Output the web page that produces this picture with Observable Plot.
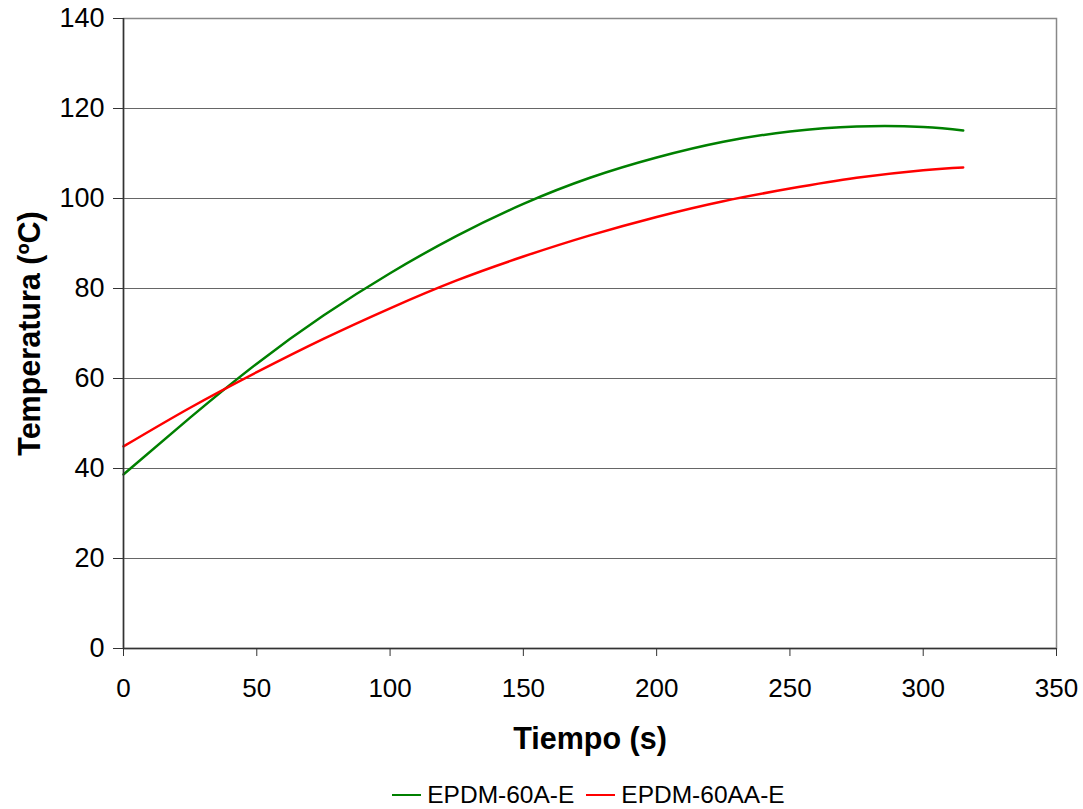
<!DOCTYPE html>
<html>
<head>
<meta charset="utf-8">
<script src="https://cdn.jsdelivr.net/npm/d3@7"></script>
<script src="https://cdn.jsdelivr.net/npm/@observablehq/plot@0.6"></script>
<style>
  html, body { margin: 0; padding: 0; background: #fff; }
  #chart svg { display: block; }
  .legend { font-family: "Liberation Sans", Arial, sans-serif; font-size: 24.5px; color: #000;
    display: flex; justify-content: center; align-items: center; gap: 12px; height: 36px;
    padding-left: 94px; margin-top: 7px; }
  .legend .item { display: flex; align-items: center; }
  .legend .sw { display: inline-block; width: 29px; height: 2.5px; margin-right: 6px; }
</style>
</head>
<body>
<div id="chart"></div>
<div class="legend" id="legend"></div>
<script>
const time = [0, 25, 50, 75, 100, 125, 150, 175, 200, 225, 250, 275, 300, 315];
const seriesNames = ["EPDM-60A-E", "EPDM-60AA-E"];
const seriesColors = ["#008000", "#ff0000"];
const greenValues = [38.7, 51.3, 63.3, 74.0, 83.4, 91.7, 98.8, 104.6, 109.1, 112.6, 114.9, 116.0, 115.9, 115.1];
const redValues   = [44.9, 53.5, 61.4, 68.8, 75.6, 81.8, 87.1, 91.8, 95.9, 99.4, 102.2, 104.6, 106.3, 106.9];
const xTicks = [0, 50, 100, 150, 200, 250, 300, 350];
const yTicks = [0, 20, 40, 60, 80, 100, 120, 140];
const xLabel = "Tiempo (s)";
const yLabel = "Temperatura (ºC)";

const data = [];
time.forEach((t, i) => {
  data.push({t, v: greenValues[i], s: seriesNames[0]});
  data.push({t, v: redValues[i], s: seriesNames[1]});
});

const font = "Liberation Sans, Arial, sans-serif";

const chart = Plot.plot({
  width: 1083,
  height: 770,
  marginLeft: 123,
  marginRight: 27,
  marginTop: 18,
  marginBottom: 122,
  style: {fontFamily: font, fontSize: "26px", color: "#000", background: "#fff"},
  x: {domain: [0, 350], ticks: xTicks},
  y: {domain: [0, 140], ticks: yTicks},
  color: {domain: seriesNames, range: seriesColors},
  marks: [
    Plot.gridY(yTicks, {stroke: "#666", strokeOpacity: 1, strokeWidth: 1}),
    Plot.frame({stroke: "#888", strokeWidth: 1.5}),
    Plot.line(data, {x: "t", y: "v", z: "s", stroke: "s", strokeWidth: 2.5, curve: "natural"}),
    Plot.axisY(yTicks, {tickSize: 10, tickPadding: 9, fontSize: 27, label: null, stroke: "#333"}),
    Plot.axisX(xTicks, {tickSize: 8, tickPadding: 22, fontSize: 26, label: null, stroke: "#333"}),
    Plot.ruleX([0], {stroke: "#333", strokeWidth: 1.5}),
    Plot.ruleY([0], {stroke: "#333", strokeWidth: 1.5}),
    Plot.text([xLabel], {frameAnchor: "bottom", dy: 100, text: d => d, fontSize: 30.5, fontWeight: "bold", lineAnchor: "bottom", fill: "#000"}),
    Plot.text([yLabel], {frameAnchor: "left", dx: -93, rotate: -90, textAnchor: "middle", text: d => d, fontSize: 30.5, fontWeight: "bold", fill: "#000"})
  ]
});
document.getElementById("chart").appendChild(chart);

const legend = document.getElementById("legend");
seriesNames.forEach((name, i) => {
  const item = document.createElement("span");
  item.className = "item";
  const sw = document.createElement("span");
  sw.className = "sw";
  sw.style.background = seriesColors[i];
  item.appendChild(sw);
  item.appendChild(document.createTextNode(name));
  legend.appendChild(item);
});
</script>
</body>
</html>
